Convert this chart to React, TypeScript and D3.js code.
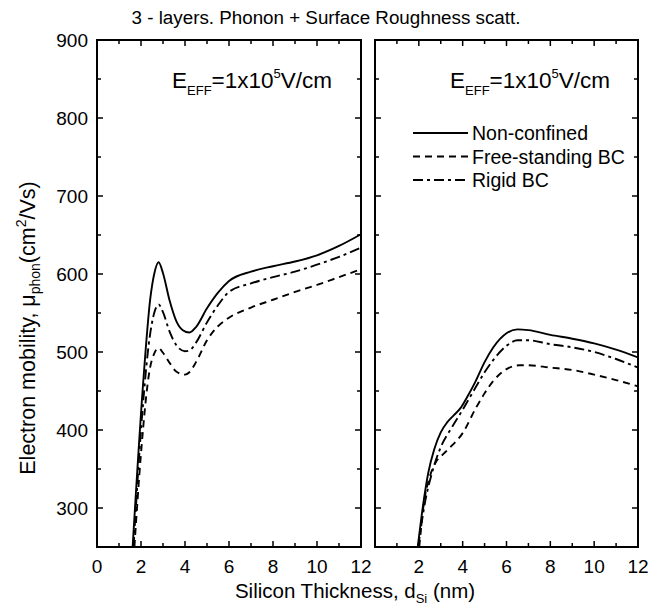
import React from "react";
import * as d3 from "d3";

const W = 662;
const H = 608;

// Left panel: phonon + SR, non-confined / free-standing / rigid
const leftNonX = [1.62, 2.11, 2.42, 2.6, 2.8, 3.0, 3.3, 3.6, 3.9, 4.2, 4.5, 5.0, 5.5, 6.0, 7.0, 8.0, 9.0, 10.0, 11.0, 12.0];
const leftNonY = [250, 465, 568, 600, 615, 601, 566, 540, 528, 525, 532, 556, 576, 591, 603, 610, 616, 624, 636, 651];
const leftFreeX = [1.7, 2.0, 2.4, 2.6, 2.8, 3.0, 3.3, 3.6, 4.0, 4.2, 4.5, 5.0, 5.5, 6.0, 7.0, 8.0, 9.0, 10.0, 11.0, 12.0];
const leftFreeY = [250, 370, 478, 498, 505, 499, 486, 475, 471, 474, 487, 515, 533, 544, 557, 567, 577, 586, 596, 606];
const leftRigidX = [1.66, 2.0, 2.4, 2.6, 2.8, 3.0, 3.3, 3.6, 4.0, 4.2, 4.5, 5.0, 5.5, 6.0, 7.0, 8.0, 9.0, 10.0, 11.0, 12.0];
const leftRigidY = [250, 400, 520, 550, 561, 551, 526, 509, 501, 502, 512, 538, 560, 577, 588, 596, 603, 612, 622, 634];

// Right panel
const rightNonX = [1.95, 2.2, 2.43, 2.7, 3.0, 3.3, 3.6, 3.9, 4.2, 4.6, 5.0, 5.4, 6.0, 6.5, 7.0, 8.0, 9.0, 10.0, 11.0, 12.0];
const rightNonY = [250, 305, 345, 375, 397, 410, 419, 428, 442, 463, 487, 506, 524, 529, 528, 522, 517, 511, 503, 493];
const rightFreeX = [2.02, 2.2, 2.5, 2.8, 3.0, 3.4, 4.0, 4.6, 5.0, 5.4, 6.0, 6.6, 7.0, 8.0, 9.0, 10.0, 11.0, 12.0];
const rightFreeY = [250, 300, 340, 360, 366, 377, 396, 428, 447, 463, 478, 483, 483, 480, 477, 471, 464, 456];
const rightRigidX = [1.97, 2.3, 2.6, 3.0, 3.5, 4.0, 4.6, 5.0, 5.4, 6.0, 6.5, 7.0, 8.0, 9.0, 10.0, 11.0, 12.0];
const rightRigidY = [250, 310, 345, 378, 403, 426, 455, 474, 490, 508, 515, 515, 510, 506, 500, 491, 480];

const yTicks = [300, 400, 500, 600, 700, 800, 900];
const leftXTicks = [0, 2, 4, 6, 8, 10, 12];
const rightXTicks = [2, 4, 6, 8, 10, 12];
const legendLabels = ["Non-confined", "Free-standing BC", "Rigid BC"];

const TOP = 40;
const BOTTOM = 547;
const FONT = "'Liberation Sans', Arial, Helvetica, sans-serif";

const yScale = d3.scaleLinear().domain([250, 900]).range([BOTTOM, TOP]);

const styles = [
  { dash: undefined as string | undefined },
  { dash: "7,5" },
  { dash: "10,4,3,4" },
];

function zip(xs: number[], ys: number[]): [number, number][] {
  return xs.map((x, i) => [x, ys[i]]);
}

function Panel({
  x0,
  x1,
  id,
  series,
  xTickLabels,
  showYLabels,
  legend,
}: {
  x0: number;
  x1: number;
  id: string;
  series: [number, number][][];
  xTickLabels: number[];
  showYLabels: boolean;
  legend: boolean;
}) {
  const xScale = d3.scaleLinear().domain([0, 12]).range([x0, x1]);
  const line = d3
    .line<[number, number]>()
    .x((d) => xScale(d[0]))
    .y((d) => yScale(d[1]))
    .curve(d3.curveMonotoneX);
  const xMinor = d3.range(0, 13, 1);
  const yMinor = d3.range(250, 901, 50);
  const majLen = 6;
  const minLen = 4;
  return (
    <g>
      <defs>
        <clipPath id={id}>
          <rect x={x0} y={TOP} width={x1 - x0} height={BOTTOM - TOP} />
        </clipPath>
      </defs>
      <g clipPath={`url(#${id})`}>
        {series.map((s, i) => (
          <path
            key={i}
            d={line(s) || ""}
            fill="none"
            stroke="#000"
            strokeWidth={1.9}
            strokeDasharray={styles[i].dash}
          />
        ))}
      </g>
      {xMinor.map((v) => {
        const len = v % 2 === 0 ? majLen : minLen;
        const x = xScale(v);
        return (
          <g key={"xt" + v}>
            <line x1={x} x2={x} y1={BOTTOM} y2={BOTTOM - len} stroke="#000" strokeWidth={1.5} />
            <line x1={x} x2={x} y1={TOP} y2={TOP + len} stroke="#000" strokeWidth={1.5} />
          </g>
        );
      })}
      {yMinor.map((v) => {
        const len = v % 100 === 0 ? majLen : minLen;
        const y = yScale(v);
        return (
          <g key={"yt" + v}>
            <line x1={x0} x2={x0 + len} y1={y} y2={y} stroke="#000" strokeWidth={1.5} />
            <line x1={x1} x2={x1 - len} y1={y} y2={y} stroke="#000" strokeWidth={1.5} />
          </g>
        );
      })}
      <rect x={x0} y={TOP} width={x1 - x0} height={BOTTOM - TOP} fill="none" stroke="#000" strokeWidth={2} />
      {xTickLabels.map((v) => (
        <text key={"xl" + v} x={xScale(v)} y={573} textAnchor="middle" fontSize={19} fontFamily={FONT}>
          {v}
        </text>
      ))}
      {showYLabels &&
        yTicks.map((v) => (
          <text key={"yl" + v} x={x0 - 9} y={yScale(v)} textAnchor="end" dominantBaseline="central" fontSize={19} fontFamily={FONT}>
            {v}
          </text>
        ))}
      <text x={x0 + 75} y={88} fontSize={22.5} fontFamily={FONT}>
        E
        <tspan fontSize={13} dy={7}>EFF</tspan>
        <tspan dy={-7}>=1x10</tspan>
        <tspan fontSize={13} dy={-10}>5</tspan>
        <tspan dy={10}>V/cm</tspan>
      </text>
      {legend &&
        legendLabels.map((lab, i) => {
          const y = 133 + i * 23.5;
          return (
            <g key={lab}>
              <line x1={x0 + 38} x2={x0 + 93} y1={y} y2={y} stroke="#000" strokeWidth={1.9} strokeDasharray={styles[i].dash} />
              <text x={x0 + 97} y={y} dominantBaseline="central" fontSize={19.5} fontFamily={FONT}>
                {lab}
              </text>
            </g>
          );
        })}
    </g>
  );
}

export default function App() {
  const leftSeries = [zip(leftNonX, leftNonY), zip(leftFreeX, leftFreeY), zip(leftRigidX, leftRigidY)];
  const rightSeries = [zip(rightNonX, rightNonY), zip(rightFreeX, rightFreeY), zip(rightRigidX, rightRigidY)];
  return (
    <svg width={W} height={H} style={{ position: "absolute", left: 0, top: 0, background: "#fff" }}>
      <rect width={W} height={H} fill="#fff" />
      <text x={326} y={24} textAnchor="middle" fontSize={18.8} fontFamily={FONT}>
        3 - layers. Phonon + Surface Roughness scatt.
      </text>
      <Panel x0={97} x1={361} id="clipL" series={leftSeries} xTickLabels={leftXTicks} showYLabels={true} legend={false} />
      <Panel x0={375} x1={638} id="clipR" series={rightSeries} xTickLabels={rightXTicks} showYLabels={false} legend={true} />
      <text x={355} y={598} textAnchor="middle" fontSize={20.5} fontFamily={FONT}>
        Silicon Thickness, d
        <tspan fontSize={13} dy={5}>Si</tspan>
        <tspan dy={-5}> (nm)</tspan>
      </text>
      <text transform={`translate(35,328) rotate(-90)`} textAnchor="middle" fontSize={21.5} fontFamily={FONT}>
        Electron mobility, μ
        <tspan fontSize={14} dy={5}>phon</tspan>
        <tspan dy={-5}>(cm</tspan>
        <tspan fontSize={14} dy={-9}>2</tspan>
        <tspan dy={9}>/Vs)</tspan>
      </text>
    </svg>
  );
}
